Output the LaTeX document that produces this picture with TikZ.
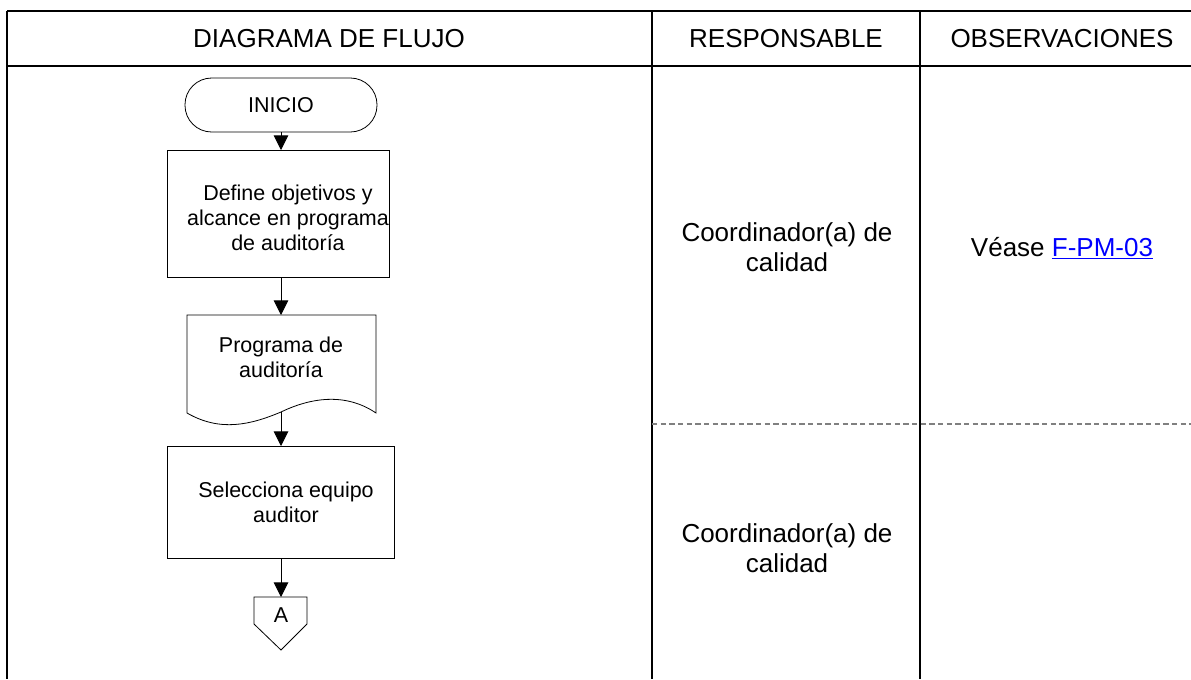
\documentclass[tikz,border=0pt]{standalone}
\usepackage{fontspec}
\setmainfont{Liberation Sans}
\usetikzlibrary{arrows.meta, positioning}

\begin{document}
\begin{tikzpicture}[
  x = 0.75pt, y = -0.75pt,
  rule/.style    = {line width=1.6pt},
  sep/.style     = {gray, line width=0.8pt, dash pattern=on 4pt off 2.5pt},
  head/.style    = {font=\fontsize{19.5}{22}\selectfont, inner sep=0pt},
  cell/.style    = {font=\fontsize{19.5}{22.5}\selectfont, align=center, inner sep=0pt},
  txt/.style     = {font=\fontsize{16.1}{18.75}\selectfont, align=center, inner sep=0pt},
  term/.style    = {draw, line width=0.6pt, rounded corners=20pt,
                    minimum width=144pt, minimum height=40.5pt, txt},
  box/.style     = {draw, line width=0.6pt, txt},
  arr/.style     = {-{Triangle[length=11pt, width=11pt]}, line width=0.7pt},
]
  \useasboundingbox (0,0) rectangle (1191,679);

  % table frame
  \draw[rule] (7,11) -- (1191,11);
  \draw[rule] (7,66) -- (1191,66);
  \draw[rule] (7,11) -- (7,679);
  \draw[rule] (652,11) -- (652,679);
  \draw[rule] (920,11) -- (920,679);
  \draw[sep]  (652,424) -- (1191,424);

  \node[head] (hflow) at (329,39)  {DIAGRAMA DE FLUJO};
  \node[head] (hresp) at (786,39)  {RESPONSABLE};
  \node[head] (hobs)  at (1062,39) {OBSERVACIONES};

  % flowchart
  \node[term] (inicio) at (281,105) {INICIO};
  \node[box, minimum width=166.5pt, minimum height=95.25pt] (define) at (278,213.5) {};
  \node[txt] (definet) at (288,218) {Define objetivos y\\alcance en programa\\de auditoría};

  \draw[line width=0.6pt] (187,315) -- (376,315) -- (376,413)
    .. controls (345,392) and (310,398) .. (281,412)
    .. controls (250,425) and (220,432) .. (187,413) -- cycle;
  \node[txt] (prog) at (281,357) {Programa de\\auditoría};
  \coordinate (progb) at (281,412);
  \coordinate (progt) at (281,315);

  \node[box, minimum width=170.25pt, minimum height=84pt] (equipo) at (280.5,502) {};
  \node[txt] (equipot) at (286,502) {Selecciona equipo\\auditor};

  \coordinate (contop) at (281,597);
  \draw[line width=0.6pt] (254,597) -- (307,597) -- (307,624) -- (281,650) -- (254,624) -- cycle;
  \node[txt] (conA) at (281,615) {A};

  \draw[arr] (inicio) -- (281,150);
  \draw[arr] (281,277) -- (progt);
  \draw[arr] (progb) -- (281,446);
  \draw[arr] (281,558) -- (contop);

  % responsable / observaciones
  \node[cell] (resp1) at (787,247) {Coordinador(a) de\\calidad};
  \node[cell] (resp2) at (787,548) {Coordinador(a) de\\calidad};
  \node[cell] (obs1)  at (1062,248) {Véase \textcolor{blue}{\underline{F-PM-03}}};
\end{tikzpicture}
\end{document}
